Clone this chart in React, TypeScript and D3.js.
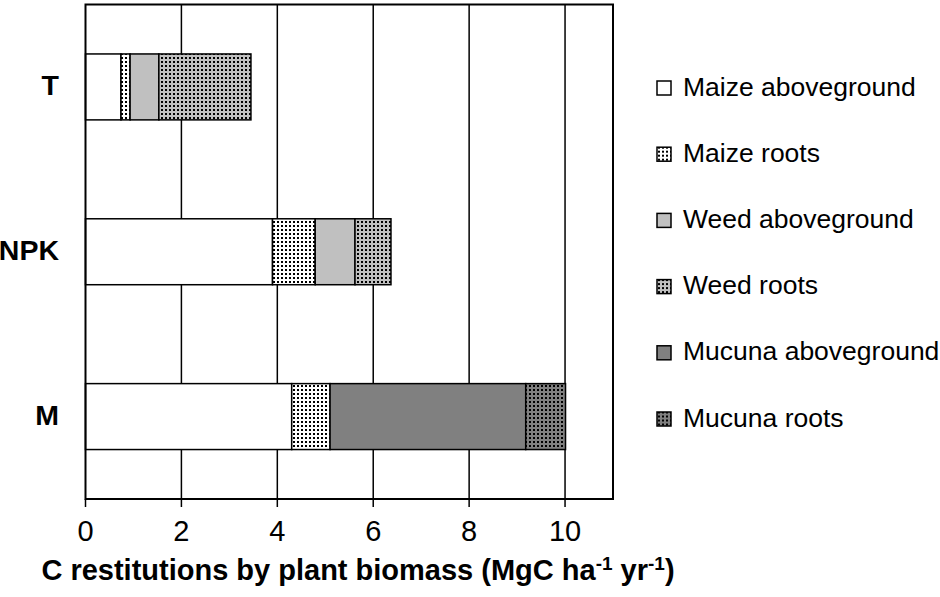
import React, { useRef, useEffect } from 'react'
import * as d3 from 'd3'

const categories = ['T', 'NPK', 'M']

const seriesNames = [
  'Maize aboveground',
  'Maize roots',
  'Weed aboveground',
  'Weed roots',
  'Mucuna aboveground',
  'Mucuna roots'
]

// values per treatment, in order T, NPK, M
const maizeAbove = [0.74, 3.9, 4.3]
const maizeRoots = [0.19, 0.89, 0.8]
const weedAbove = [0.6, 0.83, 0]
const weedRoots = [1.92, 0.75, 0]
const mucunaAbove = [0, 0, 4.08]
const mucunaRoots = [0, 0, 0.83]

const xTicks = [0, 2, 4, 6, 8, 10]

const fills = ['#ffffff', 'url(#dotWhite)', '#c0c0c0', 'url(#dotLight)', '#808080', 'url(#dotDark)']

const font = "'Liberation Sans', Arial, sans-serif"

export default function App() {
  const canvas = useRef<SVGSVGElement>(null)

  useEffect(() => {
    const svg = d3.select(canvas.current)
    svg.selectAll('*').remove()

    const left = 85.5, right = 613, top = 4.5, bottom = 499

    const rows = categories.map((c, i) => ({
      cat: c,
      [seriesNames[0]]: maizeAbove[i],
      [seriesNames[1]]: maizeRoots[i],
      [seriesNames[2]]: weedAbove[i],
      [seriesNames[3]]: weedRoots[i],
      [seriesNames[4]]: mucunaAbove[i],
      [seriesNames[5]]: mucunaRoots[i]
    }))

    const x = d3.scaleLinear().domain([0, 11]).range([left, right])
    const y = d3.scaleBand<string>().domain(categories).range([top, bottom])
      .paddingInner(0.6).paddingOuter(0.3)

    // dotted patterns
    const defs = svg.append('defs')
    const pats = [['dotWhite', '#ffffff'], ['dotLight', '#c0c0c0'], ['dotDark', '#808080']]
    pats.forEach(([id, bg]) => {
      const p = defs.append('pattern').attr('id', id)
        .attr('patternUnits', 'userSpaceOnUse').attr('width', 4).attr('height', 4)
      p.append('rect').attr('width', 4).attr('height', 4).attr('fill', bg)
      p.append('rect').attr('x', 1).attr('y', 1).attr('width', 2).attr('height', 2).attr('fill', '#000')
    })

    svg.append('rect').attr('width', 940).attr('height', 597).attr('fill', '#fff')

    // gridlines
    svg.append('g').selectAll('line').data(xTicks.filter(d => d > 0)).enter()
      .append('line')
      .attr('x1', d => x(d)).attr('x2', d => x(d))
      .attr('y1', top).attr('y2', bottom)
      .attr('stroke', '#000').attr('stroke-width', 1.5)

    const stack = d3.stack<any>().keys(seriesNames)(rows)

    svg.append('g').selectAll('g').data(stack).enter()
      .append('g')
      .attr('fill', (d, i) => fills[i])
      .selectAll('rect').data(d => d.filter(s => s[1] - s[0] > 0)).enter()
      .append('rect')
      .attr('x', d => x(d[0]))
      .attr('width', d => x(d[1]) - x(d[0]))
      .attr('y', d => y(d.data.cat) as number)
      .attr('height', y.bandwidth())
      .attr('stroke', '#000').attr('stroke-width', 1.5)

    // frame
    svg.append('rect')
      .attr('x', left).attr('y', top)
      .attr('width', right - left).attr('height', bottom - top)
      .attr('fill', 'none').attr('stroke', '#000').attr('stroke-width', 2)

    // x axis ticks + labels
    const xa = svg.append('g')
    xa.selectAll('line').data(xTicks).enter().append('line')
      .attr('x1', d => x(d)).attr('x2', d => x(d))
      .attr('y1', bottom).attr('y2', bottom + 8)
      .attr('stroke', '#000').attr('stroke-width', 1.5)
    xa.selectAll('text').data(xTicks).enter().append('text')
      .attr('x', d => x(d)).attr('y', 541)
      .attr('text-anchor', 'middle')
      .attr('font-family', font).attr('font-size', 29)
      .text(d => d)

    // category labels
    svg.append('g').selectAll('text').data(categories).enter().append('text')
      .attr('x', 59)
      .attr('y', d => (y(d) as number) + y.bandwidth() / 2 + 8.5)
      .attr('text-anchor', 'end')
      .attr('font-family', font).attr('font-size', 28.5).attr('font-weight', 'bold')
      .text(d => d)

    // axis title
    const title = svg.append('text')
      .attr('x', 358).attr('y', 580)
      .attr('text-anchor', 'middle')
      .attr('font-family', font).attr('font-size', 29).attr('font-weight', 'bold')
    title.append('tspan').text('C restitutions by plant biomass (MgC ha')
    title.append('tspan').attr('font-size', 19).attr('dy', -10).text('-1')
    title.append('tspan').attr('dy', 10).text(' yr')
    title.append('tspan').attr('font-size', 19).attr('dy', -10).text('-1')
    title.append('tspan').attr('dy', 10).text(')')

    // legend
    const lg = svg.append('g').selectAll('g').data(seriesNames).enter()
      .append('g')
      .attr('transform', (d, i) => `translate(657,${95.5 + i * 66.2})`)
    lg.append('rect')
      .attr('x', 0).attr('y', -14.5).attr('width', 14).attr('height', 14)
      .attr('fill', (d, i) => fills[i])
      .attr('stroke', '#000').attr('stroke-width', 1.5)
    lg.append('text')
      .attr('x', 26).attr('y', 0)
      .attr('font-family', font).attr('font-size', 26.5)
      .text(d => d)
  }, [])

  return (
    <svg width="940" height="597" ref={canvas} style={{ position: 'absolute', left: 0, top: 0 }} />
  )
}
